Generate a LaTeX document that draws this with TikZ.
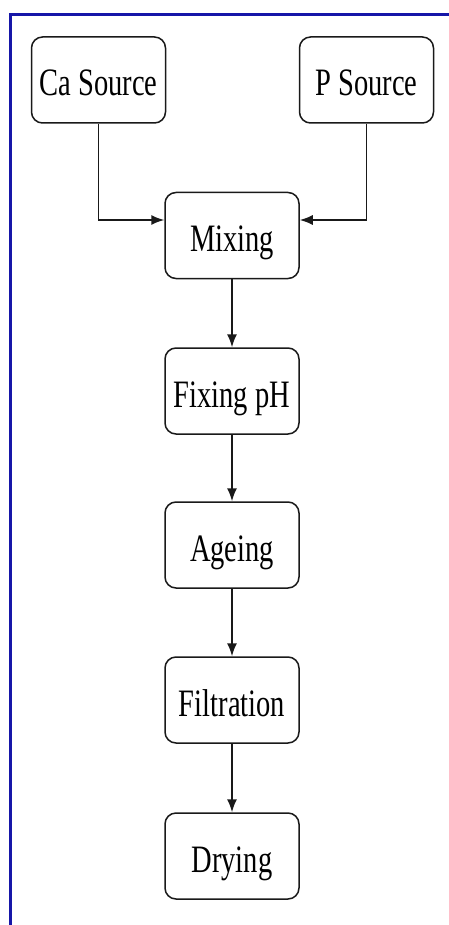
\documentclass[tikz,border=0pt]{standalone}
\usepackage{fontspec}
\setmainfont[FakeStretch=0.735]{Liberation Serif}
\usetikzlibrary{arrows.meta}
\definecolor{frameblue}{RGB}{22,22,168}
\begin{document}
\begin{tikzpicture}[x=1pt,y=-1pt,
  stepbox/.style={draw=black!90, line width=1.5pt, rounded corners=11pt,
    minimum width=134pt, minimum height=86pt, inner sep=0pt,
    text height=36pt, text depth=4pt,
    font=\fontsize{38.8}{40}\selectfont},
  flow/.style={draw=black!90, line width=1.5pt,
    -{Latex[length=13pt,width=10pt]}},
  frameline/.style={draw=frameblue, line width=3pt}]
\useasboundingbox (0,0) rectangle (449,925);
% outer frame (top and left edges)
\draw[frameline] (449,14.5) -- (10,14.5) -- (10,925);
% process steps
\node[stepbox] (ca)   at (98.5,80)  {Ca Source};
\node[stepbox] (p)    at (366.5,80) {P Source};
\node[stepbox] (mix)  at (232,235.5) {Mixing};
\node[stepbox] (ph)   at (232,391)  {Fixing pH};
\node[stepbox] (age)  at (232,545)  {Ageing};
\node[stepbox] (filt) at (232,700)  {Filtration};
\node[stepbox] (dry)  at (232,856)  {Drying};
% connectors
\draw[flow] (ca.south) |- ([yshift=15.5pt]mix.west);
\draw[flow] (p.south) |- ([yshift=15.5pt]mix.east);
\draw[flow] (mix) -- (ph);
\draw[flow] (ph) -- (age);
\draw[flow] (age) -- (filt);
\draw[flow] (filt) -- (dry);
\end{tikzpicture}
\end{document}
